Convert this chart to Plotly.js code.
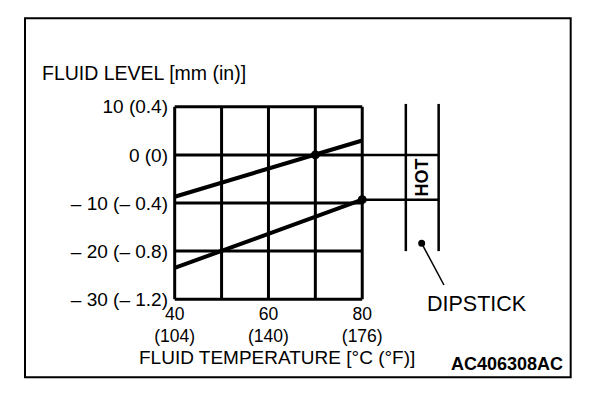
<!DOCTYPE html>
<html>
<head>
<meta charset="utf-8">
<script src="https://cdn.plot.ly/plotly-3.0.1.min.js"></script>
<style>
  html, body { margin: 0; padding: 0; background: #fff; }
  #chart { width: 608px; height: 394px; }
</style>
</head>
<body>
<div id="chart"></div>
<script>
// ---- data ----
const tempC        = [40, 80];                 // fluid temperature (°C) at line ends
const upperLevel   = [-8.7, 3.0];              // upper limit line (mm)
const lowerLevel   = [-23.5, -9.3];            // lower limit line (mm)
const dotTemps     = [70, 80];                 // marked points (°C)
const dotLevels    = [0, -9.3];                // marked points (mm)
const gridTemps    = [40, 50, 60, 70, 80];
const gridLevels   = [10, 0, -10, -20, -30];
const xTickVals    = [40, 60, 80];
const xTickText    = ['40<br>(104)', '60<br>(140)', '80<br>(176)'];
const yTickText    = ['10 (0.4)', '0 (0)', '– 10 (– 0.4)', '– 20 (– 0.8)', '– 30 (– 1.2)'];

const FONT = 'Liberation Sans, Arial, Helvetica, sans-serif';
const BLACK = '#000';

// dipstick graphic (layout positions, data coordinates)
const dipL = 89.3, dipR = 96.3, dipTop = 10.6, dipBottom = -20;
const hotTop = dotLevels[0], hotBottom = dotLevels[1];

const tMin = Math.min(...gridTemps), tMax = Math.max(...gridTemps);
const lMin = Math.min(...gridLevels), lMax = Math.max(...gridLevels);

const shapes = [];
// vertical grid lines
gridTemps.forEach(t => shapes.push({type: 'line', xref: 'x', yref: 'y',
  x0: t, x1: t, y0: lMin, y1: lMax, line: {color: BLACK, width: 3}}));
// horizontal grid lines
gridLevels.forEach(l => shapes.push({type: 'line', xref: 'x', yref: 'y',
  x0: tMin, x1: tMax, y0: l, y1: l, line: {color: BLACK, width: 3}}));
// HOT band lines extending to the dipstick
shapes.push({type: 'line', xref: 'x', yref: 'y', x0: tMax, x1: dipR, y0: hotTop, y1: hotTop,
  line: {color: BLACK, width: 2.5}});
shapes.push({type: 'line', xref: 'x', yref: 'y', x0: tMax, x1: dipR, y0: hotBottom, y1: hotBottom,
  line: {color: BLACK, width: 2.5}});
// dipstick edges
[dipL, dipR].forEach(x => shapes.push({type: 'line', xref: 'x', yref: 'y',
  x0: x, x1: x, y0: dipBottom, y1: dipTop, line: {color: BLACK, width: 2.5}}));
// leader line and dot
shapes.push({type: 'line', xref: 'x', yref: 'y', x0: 92.68, y0: -18.38, x1: 97.43, y1: -27.05,
  line: {color: BLACK, width: 1.5}});
shapes.push({type: 'circle', xref: 'x', yref: 'y', xsizemode: 'pixel', ysizemode: 'pixel',
  xanchor: 92.68, yanchor: -18.38, x0: -3.5, x1: 3.5, y0: -3.5, y1: 3.5,
  fillcolor: BLACK, line: {color: BLACK, width: 0}});
// outer frame
shapes.push({type: 'rect', xref: 'paper', yref: 'paper', x0: -0.507, x1: 1.401, y0: -0.3629, y1: 1.4144,
  line: {color: BLACK, width: 2}, fillcolor: 'rgba(0,0,0,0)'});

const traces = [
  {x: tempC, y: upperLevel, mode: 'lines', line: {color: BLACK, width: 4}, hoverinfo: 'skip'},
  {x: tempC, y: lowerLevel, mode: 'lines', line: {color: BLACK, width: 4}, hoverinfo: 'skip'},
  {x: dotTemps, y: dotLevels, mode: 'markers', marker: {color: BLACK, size: 9}, cliponaxis: false, hoverinfo: 'skip'}
];

const layout = {
  width: 608, height: 394,
  margin: {l: 170, r: 152, t: 102, b: 90, pad: 0},
  paper_bgcolor: '#fff', plot_bgcolor: '#fff',
  showlegend: false,
  font: {family: FONT, color: BLACK},
  xaxis: {
    range: [39, 100], showgrid: false, zeroline: false, showline: false,
    tickmode: 'array', tickvals: xTickVals, ticktext: xTickText,
    ticks: '', ticklabelstandoff: -3,
    tickfont: {family: FONT, size: 17.5, color: BLACK}, fixedrange: true
  },
  yaxis: {
    range: [-31, 11], showgrid: false, zeroline: false, showline: false,
    tickmode: 'array', tickvals: gridLevels, ticktext: yTickText,
    ticks: '', ticklabelstandoff: 1,
    tickfont: {family: FONT, size: 19, color: BLACK}, fixedrange: true
  },
  shapes: shapes,
  annotations: [
    {xref: 'paper', yref: 'paper', x: -0.4545, y: 1.144, xanchor: 'left', yanchor: 'middle',
     text: 'FLUID LEVEL [mm (in)]', showarrow: false, font: {family: FONT, size: 19.5, color: BLACK}},
    {xref: 'paper', yref: 'paper', x: 0.3731, y: -0.2624, xanchor: 'center', yanchor: 'middle',
     text: 'FLUID TEMPERATURE [°C (°F)]', showarrow: false, font: {family: FONT, size: 19, color: BLACK}},
    {xref: 'x', yref: 'y', x: (dipL + dipR) / 2, y: (hotTop + hotBottom) / 2, xanchor: 'center', yanchor: 'middle',
     text: '<b>HOT</b>', textangle: -90, showarrow: false, font: {family: FONT, size: 18, color: BLACK}},
    {xref: 'paper', yref: 'paper', x: 1.0734, y: 0.0, xanchor: 'center', yanchor: 'middle',
     text: 'DIPSTICK', showarrow: false, font: {family: FONT, size: 21.5, color: BLACK}},
    {xref: 'paper', yref: 'paper', x: 1.1773, y: -0.297, xanchor: 'center', yanchor: 'middle',
     text: '<b>AC406308AC</b>', showarrow: false, font: {family: FONT, size: 18, color: BLACK}}
  ]
};

Plotly.newPlot('chart', traces, layout, {displayModeBar: false, staticPlot: true});
</script>
</body>
</html>
